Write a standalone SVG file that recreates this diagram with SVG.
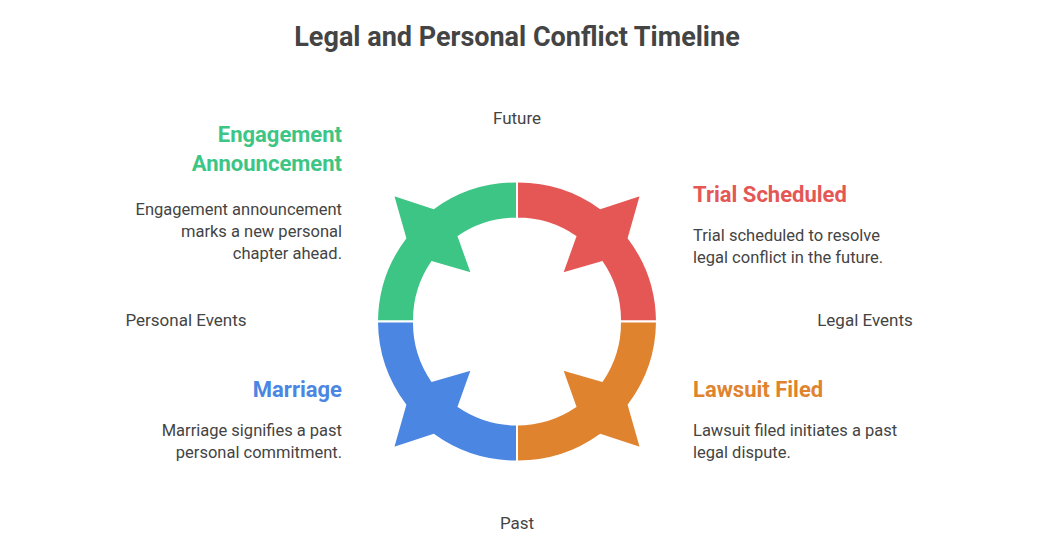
<svg xmlns="http://www.w3.org/2000/svg" width="1041" height="558" viewBox="0 0 1041 558">
<style>
text{font-family:"Roboto","Liberation Sans",sans-serif;fill:#444}
.t{font-size:27px;font-weight:bold;text-anchor:middle}
.l{font-size:17px;text-anchor:middle}
.h{font-size:22px;font-weight:bold}
.b{font-size:16.5px}
.r{text-anchor:end}
.seg{stroke:#fff;stroke-width:2}
</style>
<defs>
<path id="q" d="M -140,0 A140,140 0 0 1 -111.7,-83.4 L -124,-126.7 L -83.4,-113.4 A140,140 0 0 1 0,-140 L 0,-103 A103,103 0 0 0 -58.4,-85 L -45,-47.7 L -85,-59.4 A103,103 0 0 0 -103,0 Z"/>
</defs>
<rect width="1041" height="558" fill="#fff"/>
<text class="t" x="517" y="46">Legal and Personal Conflict Timeline</text>
<g id="connectors"></g>
<g id="ring" transform="translate(517,321.5)">
<use href="#q" class="seg" fill="#3DC585"/>
<use href="#q" class="seg" fill="#E55755" transform="scale(-1,1)"/>
<use href="#q" class="seg" fill="#4A86E2" transform="scale(1,-1)"/>
<use href="#q" class="seg" fill="#E0832E" transform="scale(-1,-1)"/>
</g>
<g id="axis">
<text class="l" x="517" y="124">Future</text>
<text class="l" x="517" y="529">Past</text>
<text class="l" x="186" y="326">Personal Events</text>
<text class="l" x="865" y="326">Legal Events</text>
</g>
<g id="engagement">
<text class="h r" x="342" y="142" style="fill:#3DC585">Engagement</text>
<text class="h r" x="342" y="171" style="fill:#3DC585">Announcement</text>
<text class="b r" x="342" y="215">Engagement announcement</text>
<text class="b r" x="342" y="237">marks a new personal</text>
<text class="b r" x="342" y="259">chapter ahead.</text>
</g>
<g id="marriage">
<text class="h r" x="342" y="397" style="fill:#4A86E2">Marriage</text>
<text class="b r" x="342" y="436">Marriage signifies a past</text>
<text class="b r" x="342" y="458">personal commitment.</text>
</g>
<g id="trial">
<text class="h" x="693" y="202" style="fill:#E55755">Trial Scheduled</text>
<text class="b" x="693" y="241">Trial scheduled to resolve</text>
<text class="b" x="693" y="263">legal conflict in the future.</text>
</g>
<g id="lawsuit">
<text class="h" x="693" y="397" style="fill:#E0832E">Lawsuit Filed</text>
<text class="b" x="693" y="436">Lawsuit filed initiates a past</text>
<text class="b" x="693" y="458">legal dispute.</text>
</g>
</svg>
